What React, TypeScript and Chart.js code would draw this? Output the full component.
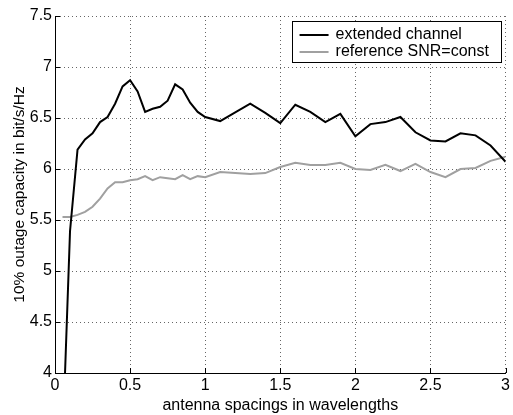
import React, { useEffect, useRef } from "react";
import { Chart, registerables } from "chart.js";

Chart.register(...registerables);

// antenna spacing in wavelengths
const spacing = [
  0.05, 0.1, 0.15, 0.2, 0.25, 0.3, 0.35, 0.4, 0.45, 0.5,
  0.55, 0.6, 0.65, 0.7, 0.75, 0.8, 0.85, 0.9, 0.95, 1.0,
  1.1, 1.2, 1.3, 1.4, 1.5, 1.6, 1.7, 1.8, 1.9, 2.0,
  2.1, 2.2, 2.3, 2.4, 2.5, 2.6, 2.7, 2.8, 2.9, 3.0,
];

const extendedChannel = [
  3.3, 5.39, 6.19, 6.29, 6.35, 6.46, 6.51, 6.64, 6.81, 6.87,
  6.76, 6.56, 6.59, 6.61, 6.67, 6.83, 6.78, 6.65, 6.56, 6.51,
  6.47, 6.555, 6.64, 6.55, 6.45, 6.63, 6.56, 6.46, 6.54, 6.32,
  6.44, 6.46, 6.51, 6.36, 6.28, 6.27, 6.35, 6.33, 6.23, 6.07,
];

const referenceSnr = [
  5.53, 5.53, 5.55, 5.58, 5.63, 5.71, 5.81, 5.87, 5.87, 5.89,
  5.9, 5.93, 5.89, 5.92, 5.91, 5.9, 5.94, 5.9, 5.93, 5.92,
  5.97, 5.96, 5.95, 5.96, 6.02, 6.06, 6.04, 6.04, 6.06, 6.0,
  5.99, 6.04, 5.98, 6.05, 5.97, 5.92, 6.0, 6.01, 6.08, 6.12,
];

const xTicks = [0, 0.5, 1, 1.5, 2, 2.5, 3];
const yTicks = [4, 4.5, 5, 5.5, 6, 6.5, 7, 7.5];
const seriesLabels = ["extended channel", "reference SNR=const"];
const seriesColors = ["#000000", "#a0a0a0"];
const xTitle = "antenna spacings in wavelengths";
const yTitle = "10% outage capacity in bit/s/Hz";

const FONT = "'Liberation Sans', Arial, Helvetica, sans-serif";

const legendPlugin = {
  id: "matlabLegend",
  afterDatasetsDraw(chart: any) {
    const { ctx, chartArea } = chart;
    const w = 209;
    const h = 41;
    const right = chartArea.right - 5;
    const left = right - w;
    const top = chartArea.top + 5;
    ctx.save();
    ctx.fillStyle = "#ffffff";
    ctx.fillRect(left, top, w, h);
    ctx.strokeStyle = "#000000";
    ctx.lineWidth = 1;
    ctx.strokeRect(Math.round(left) + 0.5, Math.round(top) + 0.5, w, h);
    ctx.font = `16px ${FONT}`;
    ctx.textBaseline = "middle";
    ctx.textAlign = "left";
    seriesLabels.forEach((label, i) => {
      const y = top + 14 + i * 17;
      ctx.strokeStyle = seriesColors[i];
      ctx.lineWidth = 2;
      ctx.beginPath();
      ctx.moveTo(left + 8, y);
      ctx.lineTo(left + 37, y);
      ctx.stroke();
      ctx.fillStyle = "#000000";
      ctx.fillText(label, left + 44, y);
    });
    ctx.restore();
  },
};

const innerTicksPlugin = {
  id: "innerTicks",
  afterDraw(chart: any) {
    const { ctx, chartArea } = chart;
    const xs = chart.scales.x;
    const ys = chart.scales.y;
    ctx.save();
    ctx.strokeStyle = "#000000";
    ctx.lineWidth = 1;
    ctx.beginPath();
    xTicks.forEach((v) => {
      const px = Math.round(xs.getPixelForValue(v)) + 0.5;
      ctx.moveTo(px, chartArea.bottom);
      ctx.lineTo(px, chartArea.bottom - 5);
    });
    yTicks.forEach((v) => {
      const py = Math.round(ys.getPixelForValue(v)) + 0.5;
      ctx.moveTo(chartArea.left, py);
      ctx.lineTo(chartArea.left + 5, py);
    });
    ctx.stroke();
    ctx.restore();
  },
};

export default function App() {
  const ref = useRef<HTMLCanvasElement | null>(null);

  useEffect(() => {
    if (!ref.current) return;
    Chart.defaults.font.family = FONT;
    Chart.defaults.font.size = 16;
    Chart.defaults.color = "#000000";

    const chart = new Chart(ref.current, {
      type: "line",
      data: {
        datasets: [
          {
            label: seriesLabels[0],
            data: spacing.map((x, i) => ({ x, y: extendedChannel[i] })),
            borderColor: seriesColors[0],
            borderWidth: 2,
            pointRadius: 0,
            tension: 0,
            fill: false,
          },
          {
            label: seriesLabels[1],
            data: spacing.map((x, i) => ({ x, y: referenceSnr[i] })),
            borderColor: seriesColors[1],
            borderWidth: 2,
            pointRadius: 0,
            tension: 0,
            fill: false,
          },
        ],
      },
      options: {
        animation: false,
        responsive: false,
        events: [],
        layout: { padding: { left: 0, right: 6, top: 16, bottom: 0 } },
        plugins: {
          legend: { display: false },
          tooltip: { enabled: false },
        },
        scales: {
          x: {
            type: "linear",
            min: 0,
            max: 3,
            afterBuildTicks: (scale: any) => {
              scale.ticks = xTicks.map((value) => ({ value }));
            },
            afterFit: (scale: any) => {
              scale.height = 42;
            },
            ticks: {
              padding: 3,
              maxRotation: 0,
              autoSkip: false,
              font: { size: 16 },
              color: "#000000",
              callback: (v: any) => String(v),
            },
            grid: {
              drawTicks: false,
              color: "rgba(0,0,0,0.6)",
              lineWidth: 1,
            },
            border: { display: true, color: "#000000", width: 1, dash: [1, 3] },
            title: {
              display: true,
              text: xTitle,
              font: { size: 16 },
              color: "#000000",
              padding: { top: 0, bottom: 0 },
            },
          },
          y: {
            type: "linear",
            min: 4,
            max: 7.5,
            afterBuildTicks: (scale: any) => {
              scale.ticks = yTicks.map((value) => ({ value }));
            },
            afterFit: (scale: any) => {
              scale.width = 55;
            },
            ticks: {
              padding: 3,
              autoSkip: false,
              font: { size: 16 },
              color: "#000000",
              callback: (v: any) => String(v),
            },
            grid: {
              drawTicks: false,
              color: "rgba(0,0,0,0.6)",
              lineWidth: 1,
            },
            border: { display: true, color: "#000000", width: 1, dash: [1, 3] },
            title: {
              display: true,
              text: yTitle,
              font: { size: 15.5 },
              color: "#000000",
              padding: { top: 10, bottom: 0 },
            },
          },
        },
      },
      plugins: [legendPlugin, innerTicksPlugin],
    } as any);

    return () => chart.destroy();
  }, []);

  return (
    <div style={{ position: "fixed", left: 0, top: 0, width: 513, height: 415, background: "#ffffff" }}>
      <canvas ref={ref} width={513} height={415} style={{ width: 513, height: 415, display: "block" }} />
    </div>
  );
}
